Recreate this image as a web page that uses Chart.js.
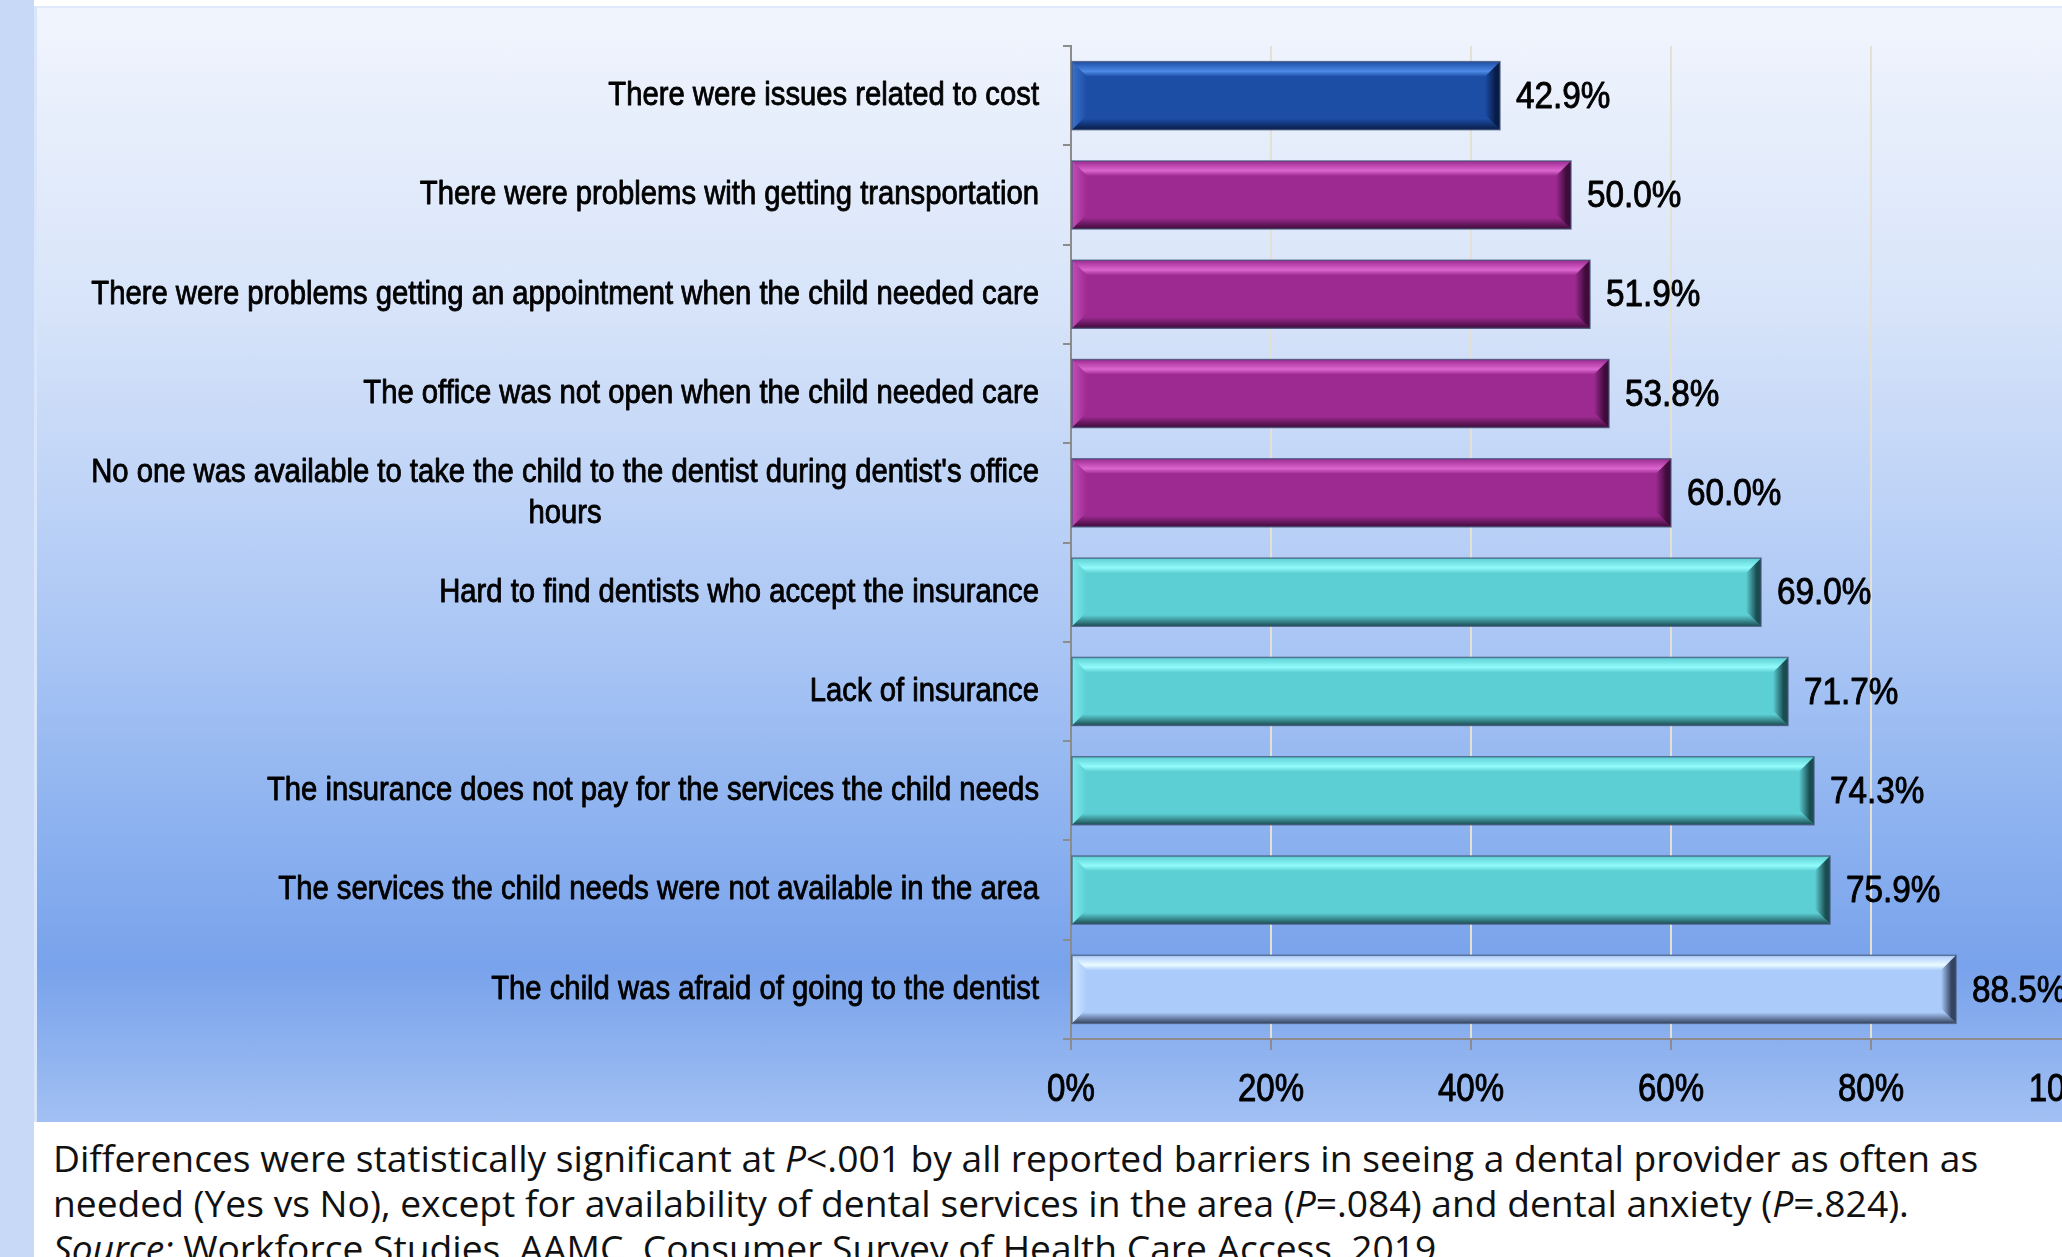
<!DOCTYPE html>
<html>
<head>
<meta charset="utf-8">
<script src="https://cdn.jsdelivr.net/npm/chart.js@4/dist/chart.umd.min.js"></script>
<style>
  html, body { margin: 0; padding: 0; }
  body {
    width: 2062px; height: 1257px; overflow: hidden; position: relative;
    background: #ffffff;
  }
  .strip {
    position: absolute; left: 0; top: 0; width: 34px; height: 1257px;
    background: #c7d9f7;
  }
  .panel {
    position: absolute; left: 34px; top: 6px; width: 2100px; height: 1116px;
    background: linear-gradient(to bottom, #f1f5fd 0%, #d6e3f9 28%, #adc8f5 55%, #8ab0ef 75%, #78a2eb 86%, #a2c0f3 100%);
    border-top: 2px solid #dfe9fb; border-left: 3px solid #d9e5fa;
    box-sizing: border-box;
  }
  .panel canvas { position: absolute; left: 0; top: 0; }
  .note {
    position: absolute; left: 53px; top: 1135px;
    font-family: "Open Sans", "Noto Sans", sans-serif; font-size: 37.2px; line-height: 45px;
    color: #111; white-space: nowrap;
  }
</style>
</head>
<body>
<div class="strip"></div>
<div class="panel"><canvas id="barriers"></canvas></div>
<div class="note">
  Differences were statistically significant at <i>P</i>&lt;.001 by all reported barriers in seeing a dental provider as often as<br>
  needed (Yes vs No), except for availability of dental services in the area (<i>P</i>=.084) and dental anxiety (<i>P</i>=.824).<br>
  <i>Source:</i> Workforce Studies, AAMC, Consumer Survey of Health Care Access, 2019.
</div>
<script>
// Reported barriers to seeing a dental provider (% of respondents)
const barriers = [
  ['There were issues related to cost'],
  ['There were problems with getting transportation'],
  ['There were problems getting an appointment when the child needed care'],
  ['The office was not open when the child needed care'],
  ["No one was available to take the child to the dentist during dentist's office", 'hours'],
  ['Hard to find dentists who accept the insurance'],
  ['Lack of insurance'],
  ['The insurance does not pay for the services the child needs'],
  ['The services the child needs were not available in the area'],
  ['The child was afraid of going to the dentist']
];
const percents = [42.9, 50.0, 51.9, 53.8, 60.0, 69.0, 71.7, 74.3, 75.9, 88.5];
const axisTicks = [0, 20, 40, 60, 80, 100];

// bevelled bar looks: flat face, highlight, shadow
const blue   = { base: '#1d4ea6', light: '#4d8ae6', dark: '#081c48' };
const purple = { base: '#9c2a90', light: '#dc66cf', dark: '#3e0b3a' };
const teal   = { base: '#5ccfd4', light: '#92fbfb', dark: '#1a4d52' };
const pale   = { base: '#abcbfb', light: '#eafcff', dark: '#34435f' };
const barLooks = [blue, purple, purple, purple, purple, teal, teal, teal, teal, pale];

// narrow lettering: Liberation Sans squeezed sideways, with a hairline
// outline to give it the heavier look of the printed labels
const FACE = '"Liberation Sans", Arimo, Arial, sans-serif';

function squeezedText(ctx, text, x, y, align, squeeze) {
  ctx.save();
  ctx.translate(x, y);
  ctx.scale(squeeze, 1);
  ctx.textAlign = align;
  ctx.strokeStyle = ctx.fillStyle;
  ctx.lineWidth = 0.9;
  ctx.lineJoin = 'round';
  ctx.strokeText(text, 0, 0);
  ctx.fillText(text, 0, 0);
  ctx.restore();
}

function poly(ctx, pts) {
  ctx.beginPath();
  ctx.moveTo(pts[0][0], pts[0][1]);
  for (let k = 1; k < pts.length; k++) ctx.lineTo(pts[k][0], pts[k][1]);
  ctx.closePath();
  ctx.fill();
}

const bevelPlugin = {
  id: 'bevel',
  afterDatasetsDraw(chart) {
    const ctx = chart.ctx;
    const meta = chart.getDatasetMeta(0);
    meta.data.forEach((bar, i) => {
      const p = bar.getProps(['x', 'y', 'base', 'height'], true);
      const look = barLooks[i];
      const left = p.base, right = p.x;
      const top = p.y - p.height / 2, bottom = p.y + p.height / 2;
      const b = 15;
      ctx.save();
      // top face
      let g = ctx.createLinearGradient(0, top, 0, top + b);
      g.addColorStop(0, look.base);
      g.addColorStop(0.65, look.light);
      g.addColorStop(1, look.base);
      ctx.fillStyle = g;
      poly(ctx, [[left, top], [right, top], [right - b, top + b], [left + b, top + b]]);
      // bottom face
      g = ctx.createLinearGradient(0, bottom - 11, 0, bottom);
      g.addColorStop(0, look.base);
      g.addColorStop(1, look.dark);
      ctx.fillStyle = g;
      poly(ctx, [[left, bottom], [right, bottom], [right - b, bottom - b], [left + b, bottom - b]]);
      // right face
      g = ctx.createLinearGradient(right - b, 0, right, 0);
      g.addColorStop(0, look.base);
      g.addColorStop(0.7, look.dark);
      g.addColorStop(1, look.dark);
      ctx.fillStyle = g;
      poly(ctx, [[right - b, top + b], [right, top], [right, bottom], [right - b, bottom - b]]);
      // left face
      g = ctx.createLinearGradient(left, 0, left + b, 0);
      g.addColorStop(0, look.light);
      g.addColorStop(1, look.base);
      ctx.fillStyle = g;
      ctx.globalAlpha = 0.6;
      poly(ctx, [[left, top], [left + b, top + b], [left + b, bottom - b], [left, bottom]]);
      ctx.globalAlpha = 1;
      ctx.strokeStyle = 'rgba(70, 85, 120, 0.75)';
      ctx.lineWidth = 1.5;
      ctx.strokeRect(left, top, right - left, bottom - top);
      ctx.restore();

      // value label
      ctx.save();
      ctx.font = '37px ' + FACE;
      ctx.fillStyle = '#000';
      ctx.textBaseline = 'middle';
      squeezedText(ctx, percents[i].toFixed(1) + '%', right + 16, p.y + 2, 'left', 0.9);
      ctx.restore();
    });
  }
};

// category names (right edge aligned, extra lines centred under the first)
// and the percent ticks under the x axis
const textPlugin = {
  id: 'axisText',
  afterDraw(chart) {
    const ctx = chart.ctx;
    const area = chart.chartArea;
    const yScale = chart.scales.y;
    const xScale = chart.scales.x;
    const squeeze = 0.86;
    const rightEdge = area.left - 32;
    const lineH = 41;
    ctx.save();
    ctx.font = '34px ' + FACE;
    ctx.fillStyle = '#000';
    ctx.textBaseline = 'middle';
    barriers.forEach((lines, i) => {
      const mid = yScale.getPixelForValue(i);
      const widest = Math.max(...lines.map(s => ctx.measureText(s).width)) * squeeze;
      const cx = rightEdge - widest / 2;
      const first = mid - (lines.length - 1) * lineH / 2;
      lines.forEach((s, k) => squeezedText(ctx, s, cx, first + k * lineH, 'center', squeeze));
    });

    ctx.font = '38px ' + FACE;
    axisTicks.forEach(v => {
      squeezedText(ctx, v + '%', xScale.getPixelForValue(v), area.bottom + 52, 'center', 0.87);
    });
    ctx.restore();
  }
};

const canvas = document.getElementById('barriers');
canvas.width = 2100;
canvas.height = 1116;
canvas.style.width = '2100px';
canvas.style.height = '1116px';

new Chart(canvas.getContext('2d'), {
  type: 'bar',
  data: {
    labels: barriers.map(l => l.join(' ')),
    datasets: [{
      data: percents,
      backgroundColor: barLooks.map(l => l.base),
      borderWidth: 0,
      barPercentage: 0.685,
      categoryPercentage: 1
    }]
  },
  options: {
    indexAxis: 'y',
    responsive: false,
    animation: false,
    devicePixelRatio: 1,
    layout: { padding: { left: 0, right: 66, top: 38, bottom: 0 } },
    plugins: { legend: { display: false }, tooltip: { enabled: false } },
    scales: {
      x: {
        min: 0,
        max: 100,
        afterBuildTicks(scale) { scale.ticks = axisTicks.map(v => ({ value: v })); },
        afterFit(scale) { scale.height = 85; },
        ticks: { display: false },
        grid: { color: '#e4e0d4', lineWidth: 2, tickColor: '#8c8c8c', tickLength: 11 },
        border: { color: '#8c8c8c', width: 2 }
      },
      y: {
        afterFit(scale) { scale.width = 1034; },
        ticks: { display: false },
        grid: { drawOnChartArea: false, drawTicks: true, tickLength: 8, tickColor: '#8c8c8c', lineWidth: 2 },
        border: { color: '#8c8c8c', width: 2 }
      }
    }
  },
  plugins: [bevelPlugin, textPlugin]
});
</script>
</body>
</html>
